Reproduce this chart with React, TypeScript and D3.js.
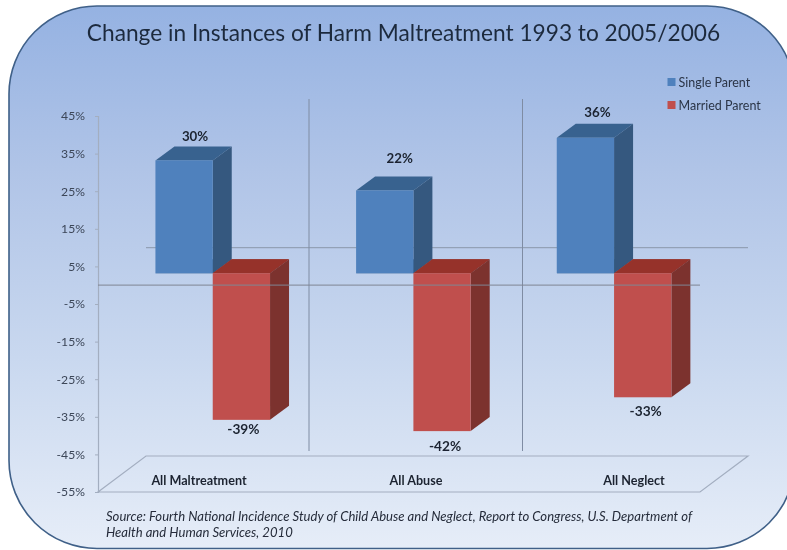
import React, { useEffect, useRef } from 'react';
import * as d3 from 'd3';

const categories = ['All Maltreatment', 'All Abuse', 'All Neglect'];
const singleParent = [30, 22, 36];
const marriedParent = [-39, -42, -33];
const tickValues = [45, 35, 25, 15, 5, -5, -15, -25, -35, -45, -55];
const seriesNames = ['Single Parent', 'Married Parent'];

// hand placed in the original slide, so they don't follow the bands
const categoryLabelX = [199, 416, 634];
const dividerX = [309, 522.5];
const singleLabelNudge = [[11, -24], [15, -32], [12, -26]];
const marriedLabelNudge = [[2, 9], [3, 14], [3, 13]];

const width = 787;
const height = 550;
const font = 'Lato, sans-serif';

const App = () => {
  const svgRef = useRef<SVGSVGElement>(null);

  useEffect(() => {
    const root = d3.select(svgRef.current);
    root.selectAll('*').remove();

    const defs = root.append('defs');
    const bg = defs.append('linearGradient').attr('id', 'bg').attr('x1', 0).attr('y1', 0).attr('x2', 0).attr('y2', 1);
    bg.append('stop').attr('offset', '0%').attr('stop-color', '#95b2e2');
    bg.append('stop').attr('offset', '30%').attr('stop-color', '#b0c4e7');
    bg.append('stop').attr('offset', '65%').attr('stop-color', '#c9d8ef');
    bg.append('stop').attr('offset', '100%').attr('stop-color', '#e6edf8');
    // the source picture is a soft, upscaled screenshot
    defs.append('filter').attr('id', 'soft')
      .attr('x', 0).attr('y', 0).attr('width', 1).attr('height', 1)
      .attr('filterUnits', 'objectBoundingBox')
      .append('feGaussianBlur').attr('stdDeviation', 0.45);

    const svg = root.append('g').attr('filter', 'url(#soft)');

    svg.append('rect').attr('width', width).attr('height', height).attr('fill', '#fff');

    svg.append('rect')
      .attr('x', 9).attr('y', 6)
      .attr('width', 786).attr('height', 542.5)
      .attr('rx', 88).attr('ry', 88)
      .attr('fill', 'url(#bg)')
      .attr('stroke', '#3f6088')
      .attr('stroke-width', 1.6);

    const y = d3.scaleLinear().domain([-55, 45]).range([492, 116]);
    const x = d3.scaleBand().domain(categories).range([98, 700]).paddingInner(0).paddingOuter(0);

    // floor depth of the 3d plot
    const depthX = 48;
    const depthY = 38;
    const barW = 57.3;
    const sideX = 19;
    const sideY = 14;
    const base = y(0) - 12;
    const grid = '#8a97ab';

    // back wall line
    svg.append('line')
      .attr('x1', 98 + depthX).attr('x2', 700 + depthX)
      .attr('y1', y(0) - depthY + 0.5).attr('y2', y(0) - depthY + 0.5)
      .attr('stroke', grid).attr('stroke-width', 1);

    svg.selectAll('.divider')
      .data(dividerX)
      .enter()
      .append('line')
      .attr('x1', d => d).attr('x2', d => d)
      .attr('y1', 99).attr('y2', 451)
      .attr('stroke', '#7f8ca3').attr('stroke-width', 1);

    // floor
    svg.append('path')
      .attr('d', `M98,${y(-55)}L${98 + depthX},${y(-55) - depthY + 2}L${700 + depthX},${y(-55) - depthY + 2}L700,${y(-55)}Z`)
      .attr('fill', 'none')
      .attr('stroke', '#a3aec0')
      .attr('stroke-width', 1.2);

    const yAxis = d3.axisLeft(y)
      .tickValues(tickValues)
      .tickSize(3)
      .tickPadding(10)
      .tickFormat(d => `${d}%`);

    const axisG = svg.append('g')
      .attr('transform', 'translate(98, 0)')
      .call(yAxis);
    axisG.select('.domain').attr('stroke', '#a3aec0').attr('stroke-width', 1.2);
    axisG.selectAll('.tick line').attr('stroke', '#a3aec0');
    axisG.selectAll('.tick text')
      .attr('fill', '#3c4658')
      .style('font-family', font)
      .style('font-size', '12.2px');

    const drawBar = (left: number, value: number, front: string, side: string, top: string) => {
      const end = base - value * (y(0) - y(1));
      const right = left + barW;
      const g = svg.append('g');
      g.append('path')
        .attr('d', `M${left},${base}L${left + sideX},${base - sideY}L${right + sideX},${base - sideY}L${right},${base}Z`)
        .attr('fill', top);
      const topY = Math.min(base, end);
      g.append('path')
        .attr('d', `M${left},${topY}L${left + sideX},${topY - sideY}L${right + sideX},${topY - sideY}L${right},${topY}Z`)
        .attr('fill', top);
      const botY = Math.max(base, end);
      g.append('path')
        .attr('d', `M${right},${topY}L${right + sideX},${topY - sideY}L${right + sideX},${botY - sideY}L${right},${botY}Z`)
        .attr('fill', side);
      g.append('rect')
        .attr('x', left).attr('y', topY)
        .attr('width', barW).attr('height', botY - topY)
        .attr('fill', front);
    };

    categories.forEach((c, i) => {
      const left = (x(c) as number) + x.bandwidth() / 2 - barW + 0.3 * depthX;
      drawBar(left, singleParent[i], '#4f81bd', '#34587f', '#38628f');
    });
    categories.forEach((c, i) => {
      const left = (x(c) as number) + x.bandwidth() / 2 + 0.3 * depthX;
      drawBar(left, marriedParent[i], '#c0504d', '#7c322d', '#96332c');
    });

    // front zero line runs over the bars
    svg.append('line')
      .attr('x1', 98).attr('x2', 700)
      .attr('y1', y(0)).attr('y2', y(0))
      .attr('stroke', '#7f8593').attr('stroke-opacity', 0.8).attr('stroke-width', 1.2);

    const label = (tx: number, ty: number, text: string, size: number, weight: string, fill: string, anchor = 'middle') =>
      svg.append('text')
        .attr('x', tx).attr('y', ty)
        .attr('text-anchor', anchor)
        .attr('dominant-baseline', 'central')
        .attr('fill', fill)
        .style('font-family', font)
        .style('font-size', `${size}px`)
        .style('font-weight', weight)
        .text(text);

    categories.forEach((c, i) => {
      const center = (x(c) as number) + x.bandwidth() / 2 + 0.3 * depthX;
      const topSingle = base - singleParent[i] * (y(0) - y(1));
      const botMarried = base - marriedParent[i] * (y(0) - y(1));
      label(center - barW / 2 + singleLabelNudge[i][0], topSingle + singleLabelNudge[i][1], `${singleParent[i]}%`, 13.3, '700', '#1c2430');
      label(center + barW / 2 + marriedLabelNudge[i][0], botMarried + marriedLabelNudge[i][1], `${marriedParent[i]}%`, 13.7, '700', '#1c2430');
      label(categoryLabelX[i], 480.5, c, 12.6, '700', '#1c2430');
    });

    label(403.5, 32.5, 'Change in Instances of Harm Maltreatment 1993 to 2005/2006', 22.7, '400', '#1d2a3e');

    const legendColors = ['#4f81bd', '#c0504d'];
    seriesNames.forEach((name, i) => {
      svg.append('rect')
        .attr('x', 667.5).attr('y', 78 + i * 23)
        .attr('width', 8).attr('height', 8)
        .attr('fill', legendColors[i]);
      label(678.5, 82 + i * 23, name, 12.5, '400', '#2b3547', 'start');
    });

    const source = label(106, 515.5, 'Source: Fourth National Incidence Study of Child Abuse and Neglect, Report to Congress, U.S. Department of', 13.1, '400', '#252c3a', 'start');
    const source2 = label(106, 531.5, 'Health and Human Services, 2010', 13.1, '400', '#252c3a', 'start');
    source.style('font-style', 'italic');
    source2.style('font-style', 'italic');
  }, []);

  return (
    <svg
      ref={svgRef}
      width={width}
      height={height}
      style={{ position: 'absolute', left: 0, top: 0, background: '#fff' }}
    ></svg>
  );
};

export default App;
